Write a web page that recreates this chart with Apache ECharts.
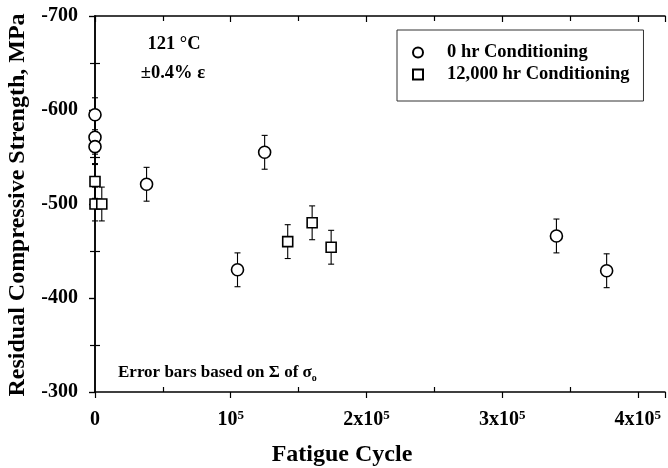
<!DOCTYPE html>
<html>
<head>
<meta charset="utf-8">
<script src="https://cdn.jsdelivr.net/npm/echarts@6/dist/echarts.min.js"></script>
<style>
html,body{margin:0;padding:0;background:#fff;}
#chart{width:668px;height:468px;}
</style>
</head>
<body>
<div id="chart"></div>
<script>
// ---- data ----
var cycles0hr   = [0, 0, 0, 38000, 105000, 125000, 340000, 377000];
var strength0hr = [-595, -571, -561, -521, -430, -555, -466, -429];
var error0hr    = [18, 18, 18, 18, 18, 18, 18, 18];

var cycles12k   = [0, 0, 5000, 142000, 160000, 174000];
var strength12k = [-524, -500, -500, -460, -480, -454];
var error12k    = [18, 18, 18, 18, 18, 18];

var seriesNames = ['0 hr Conditioning', '12,000 hr Conditioning'];
var xTickValues = [0, 100000, 200000, 300000, 400000];
var yTickValues = [-700, -600, -500, -400, -300];

var FONT = '"Liberation Serif","Times New Roman",serif';

function pairs(xs, ys) { return xs.map(function (x, i) { return [x, ys[i]]; }); }
function errData(xs, ys, es) { return xs.map(function (x, i) { return [x, ys[i] - es[i], ys[i] + es[i]]; }); }

function errRender(params, api) {
  var x = api.value(0), lo = api.value(1), hi = api.value(2);
  var p1 = api.coord([x, lo]), p2 = api.coord([x, hi]);
  var cap = 3;
  var st = { stroke: '#000', lineWidth: 1.1 };
  return {
    type: 'group',
    children: [
      { type: 'line', shape: { x1: p1[0], y1: p1[1], x2: p2[0], y2: p2[1] }, style: st },
      { type: 'line', shape: { x1: p1[0] - cap, y1: p1[1], x2: p1[0] + cap, y2: p1[1] }, style: st },
      { type: 'line', shape: { x1: p2[0] - cap, y1: p2[1], x2: p2[0] + cap, y2: p2[1] }, style: st }
    ]
  };
}

var axLine = { show: true, lineStyle: { color: '#000', width: 1.5 } };
var tickStyle = { color: '#000', width: 1.2 };

var xLabelRich = {
  b: { fontSize: 20, fontWeight: 'bold', fontFamily: FONT, color: '#000', lineHeight: 22 },
  sup: { fontSize: 13, fontWeight: 'bold', fontFamily: FONT, color: '#000', lineHeight: 13, verticalAlign: 'top' }
};
function xFmt(v) {
  if (xTickValues.indexOf(v) < 0) return '';
  if (v === 0) return '{b|0}';
  var n = v / 100000;
  return n === 1 ? '{b|10}{sup|5}' : '{b|' + n + 'x10}{sup|5}';
}

var xCommon = { type: 'value', min: 0, max: 420000, interval: 100000, splitLine: { show: false } };
var yCommon = { type: 'value', min: -700, max: -300, interval: 100, inverse: true, splitLine: { show: false } };

var option = {
  animation: false,
  backgroundColor: '#fff',
  grid: { left: 95, right: 1, top: 16, bottom: 76, containLabel: false },
  xAxis: [
    Object.assign({}, xCommon, {
      position: 'bottom', axisLine: axLine,
      axisTick: { show: true, length: 6, lineStyle: tickStyle },
      minorTick: { show: false },
      axisLabel: { margin: 17, formatter: xFmt, rich: xLabelRich, showMaxLabel: true }
    }),
    Object.assign({}, xCommon, {
      position: 'bottom', axisLine: { show: false },
      axisTick: { show: false, inside: true },
      minorTick: { show: true, splitNumber: 2, length: 5, lineStyle: tickStyle },
      axisLabel: { show: false }
    }),
    Object.assign({}, xCommon, {
      position: 'top', axisLine: axLine,
      axisTick: { show: true, inside: true, length: 6, lineStyle: tickStyle },
      minorTick: { show: true, splitNumber: 2, length: 5, lineStyle: tickStyle },
      axisLabel: { show: false }
    })
  ],
  yAxis: [
    Object.assign({}, yCommon, {
      position: 'left', axisLine: axLine,
      axisTick: { show: true, length: 6, lineStyle: tickStyle },
      minorTick: { show: false },
      axisLabel: { margin: 17, fontSize: 20, fontWeight: 'bold', fontFamily: FONT, color: '#000',
        formatter: function (v) { return yTickValues.indexOf(v) >= 0 ? String(v) : ''; } }
    }),
    Object.assign({}, yCommon, {
      position: 'left', axisLine: { show: false },
      axisTick: { show: false, inside: true },
      minorTick: { show: true, splitNumber: 2, length: 5, lineStyle: tickStyle },
      axisLabel: { show: false }
    }),
    Object.assign({}, yCommon, {
      position: 'right', axisLine: axLine,
      axisTick: { show: true, inside: true, length: 6, lineStyle: tickStyle },
      minorTick: { show: true, splitNumber: 2, length: 5, lineStyle: tickStyle },
      axisLabel: { show: false }
    })
  ],
  legend: {
    orient: 'vertical',
    left: 397, top: 30,
    padding: [13, 14, 17, 15],
    itemGap: 3,
    itemWidth: 10, itemHeight: 10,
    borderColor: '#333', borderWidth: 1,
    textStyle: { fontSize: 18.5, fontWeight: 'bold', fontFamily: FONT, color: '#000', padding: [0, 0, 0, 19] },
    data: seriesNames
  },
  series: [
    { name: 'err0', type: 'custom', xAxisIndex: 0, yAxisIndex: 0, renderItem: errRender,
      data: errData(cycles0hr, strength0hr, error0hr), encode: { x: 0, y: [1, 2] }, z: 1, silent: true },
    { name: 'err12', type: 'custom', xAxisIndex: 0, yAxisIndex: 0, renderItem: errRender,
      data: errData(cycles12k, strength12k, error12k), encode: { x: 0, y: [1, 2] }, z: 1, silent: true },
    { name: seriesNames[0], type: 'scatter', xAxisIndex: 0, yAxisIndex: 0, symbol: 'circle', symbolSize: 12,
      itemStyle: { color: '#fff', borderColor: '#000', borderWidth: 1.6, opacity: 1 },
      data: pairs(cycles0hr, strength0hr), z: 3 },
    { name: seriesNames[1], type: 'scatter', xAxisIndex: 0, yAxisIndex: 0, symbol: 'rect', symbolSize: 10,
      itemStyle: { color: '#fff', borderColor: '#000', borderWidth: 1.6, opacity: 1 },
      data: pairs(cycles12k, strength12k), z: 3 }
  ],
  graphic: [
    { type: 'text', x: 174, y: 44, style: { text: '121 °C', fontSize: 18.5, fontWeight: 'bold', fontFamily: FONT, fill: '#000', align: 'center', verticalAlign: 'middle' } },
    { type: 'text', x: 173, y: 73, style: { text: '±0.4% ε', fontSize: 18.5, fontWeight: 'bold', fontFamily: FONT, fill: '#000', align: 'center', verticalAlign: 'middle' } },
    { type: 'text', x: 118, y: 373, style: { text: 'Error bars based on Σ of σ{sub|o}', fontSize: 17, fontWeight: 'bold', fontFamily: FONT, fill: '#000', align: 'left', verticalAlign: 'middle',
        rich: { sub: { fontSize: 10, fontWeight: 'bold', fontFamily: FONT, fill: '#000', padding: [10, 0, 0, 0] } } } },
    { type: 'text', x: 342, y: 455, style: { text: 'Fatigue Cycle', fontSize: 24, fontWeight: 'bold', fontFamily: FONT, fill: '#000', align: 'center', verticalAlign: 'middle' } },
    { type: 'text', x: 18, y: 205, rotation: Math.PI / 2, style: { text: 'Residual Compressive Strength, MPa', fontSize: 24, fontWeight: 'bold', fontFamily: FONT, fill: '#000', align: 'center', verticalAlign: 'middle' } }
  ]
};

var chart = echarts.init(document.getElementById('chart'), null, { renderer: 'canvas' });
chart.setOption(option);
</script>
</body>
</html>
